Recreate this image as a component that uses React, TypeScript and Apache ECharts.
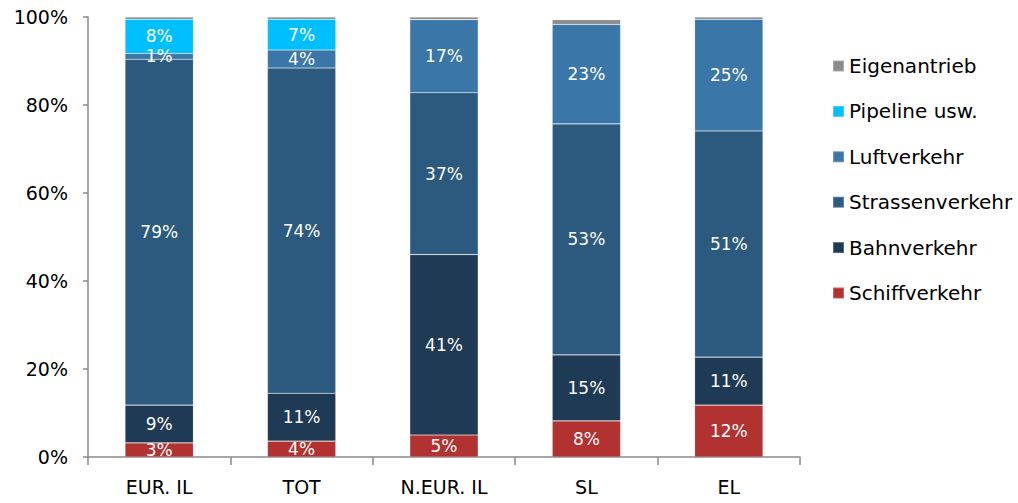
import React, { useEffect, useRef } from "react";
import * as echarts from "echarts";

const categories = ["EUR. IL", "TOT", "N.EUR. IL", "SL", "EL"];
const schiff = [3.2, 3.6, 5.0, 8.2, 11.8];
const bahn = [8.6, 10.9, 41.0, 15.0, 10.9];
const strassen = [78.6, 73.9, 36.8, 52.5, 51.4];
const luft = [1.3, 4.1, 16.6, 22.6, 25.4];
const pipeline = [7.8, 7.0, 0, 0, 0];
const eigen = [0.5, 0.5, 0.6, 1.1, 0.5];
const yTicks = [0, 20, 40, 60, 80, 100];

const FONT = "DejaVu Sans";

export default function App() {
  const ref = useRef<HTMLDivElement>(null);
  useEffect(() => {
    document.body.style.margin = "0";
    const chart = echarts.init(ref.current!, undefined, { renderer: "svg" });
    const label = {
      show: true,
      position: "inside",
      color: "#ffffff",
      fontFamily: FONT,
      fontSize: 17,
      formatter: (p: any) => (p.value > 0 ? Math.round(p.value) + "%" : ""),
    };
    const mk = (name: string, data: number[], color: string, showLabel = true) => ({
      name,
      type: "bar",
      stack: "all",
      barWidth: "48%",
      data,
      itemStyle: { color, borderColor: "rgba(255,255,255,0.25)", borderWidth: 0.6 },
      label: showLabel ? label : { show: false },
      emphasis: { disabled: true },
    });
    chart.setOption({
      animation: false,
      grid: { left: 88, right: 218, top: 17, bottom: 46, containLabel: false },
      legend: {
        orient: "vertical",
        left: 827,
        top: 51,
        itemWidth: 11,
        itemHeight: 11,
        itemGap: 25.4,
        icon: "rect",
        data: ["Eigenantrieb", "Pipeline usw.", "Luftverkehr", "Strassenverkehr", "Bahnverkehr", "Schiffverkehr"],
        textStyle: { fontFamily: FONT, fontSize: 20, color: "#000", lineHeight: 20 },
      },
      xAxis: {
        type: "category",
        data: categories,
        axisLine: { lineStyle: { color: "#8a8a8a", width: 1.5 } },
        axisTick: { show: true, length: 8, lineStyle: { color: "#8a8a8a", width: 1.5 } },
        axisLabel: { fontFamily: FONT, fontSize: 19, color: "#000", margin: 20 },
      },
      yAxis: {
        type: "value",
        min: 0,
        max: 100,
        interval: 20,
        splitLine: { show: false },
        axisLine: { show: true, lineStyle: { color: "#8a8a8a", width: 1.5 } },
        axisTick: { show: true, length: 5, lineStyle: { color: "#8a8a8a", width: 1.5 } },
        axisLabel: {
          fontFamily: FONT,
          fontSize: 19,
          color: "#000",
          margin: 20,
          formatter: (v: number) => (yTicks.includes(v) ? v + "%" : ""),
        },
      },
      series: [
        mk("Schiffverkehr", schiff, "#b23232"),
        mk("Bahnverkehr", bahn, "#1e3a54"),
        mk("Strassenverkehr", strassen, "#2b5a7e"),
        mk("Luftverkehr", luft, "#3a76a8"),
        mk("Pipeline usw.", pipeline, "#00bfff"),
        mk("Eigenantrieb", eigen, "#8c8c8c", false),
      ],
    });
    return () => chart.dispose();
  }, []);
  return <div ref={ref} style={{ width: 1018, height: 503 }} />;
}
